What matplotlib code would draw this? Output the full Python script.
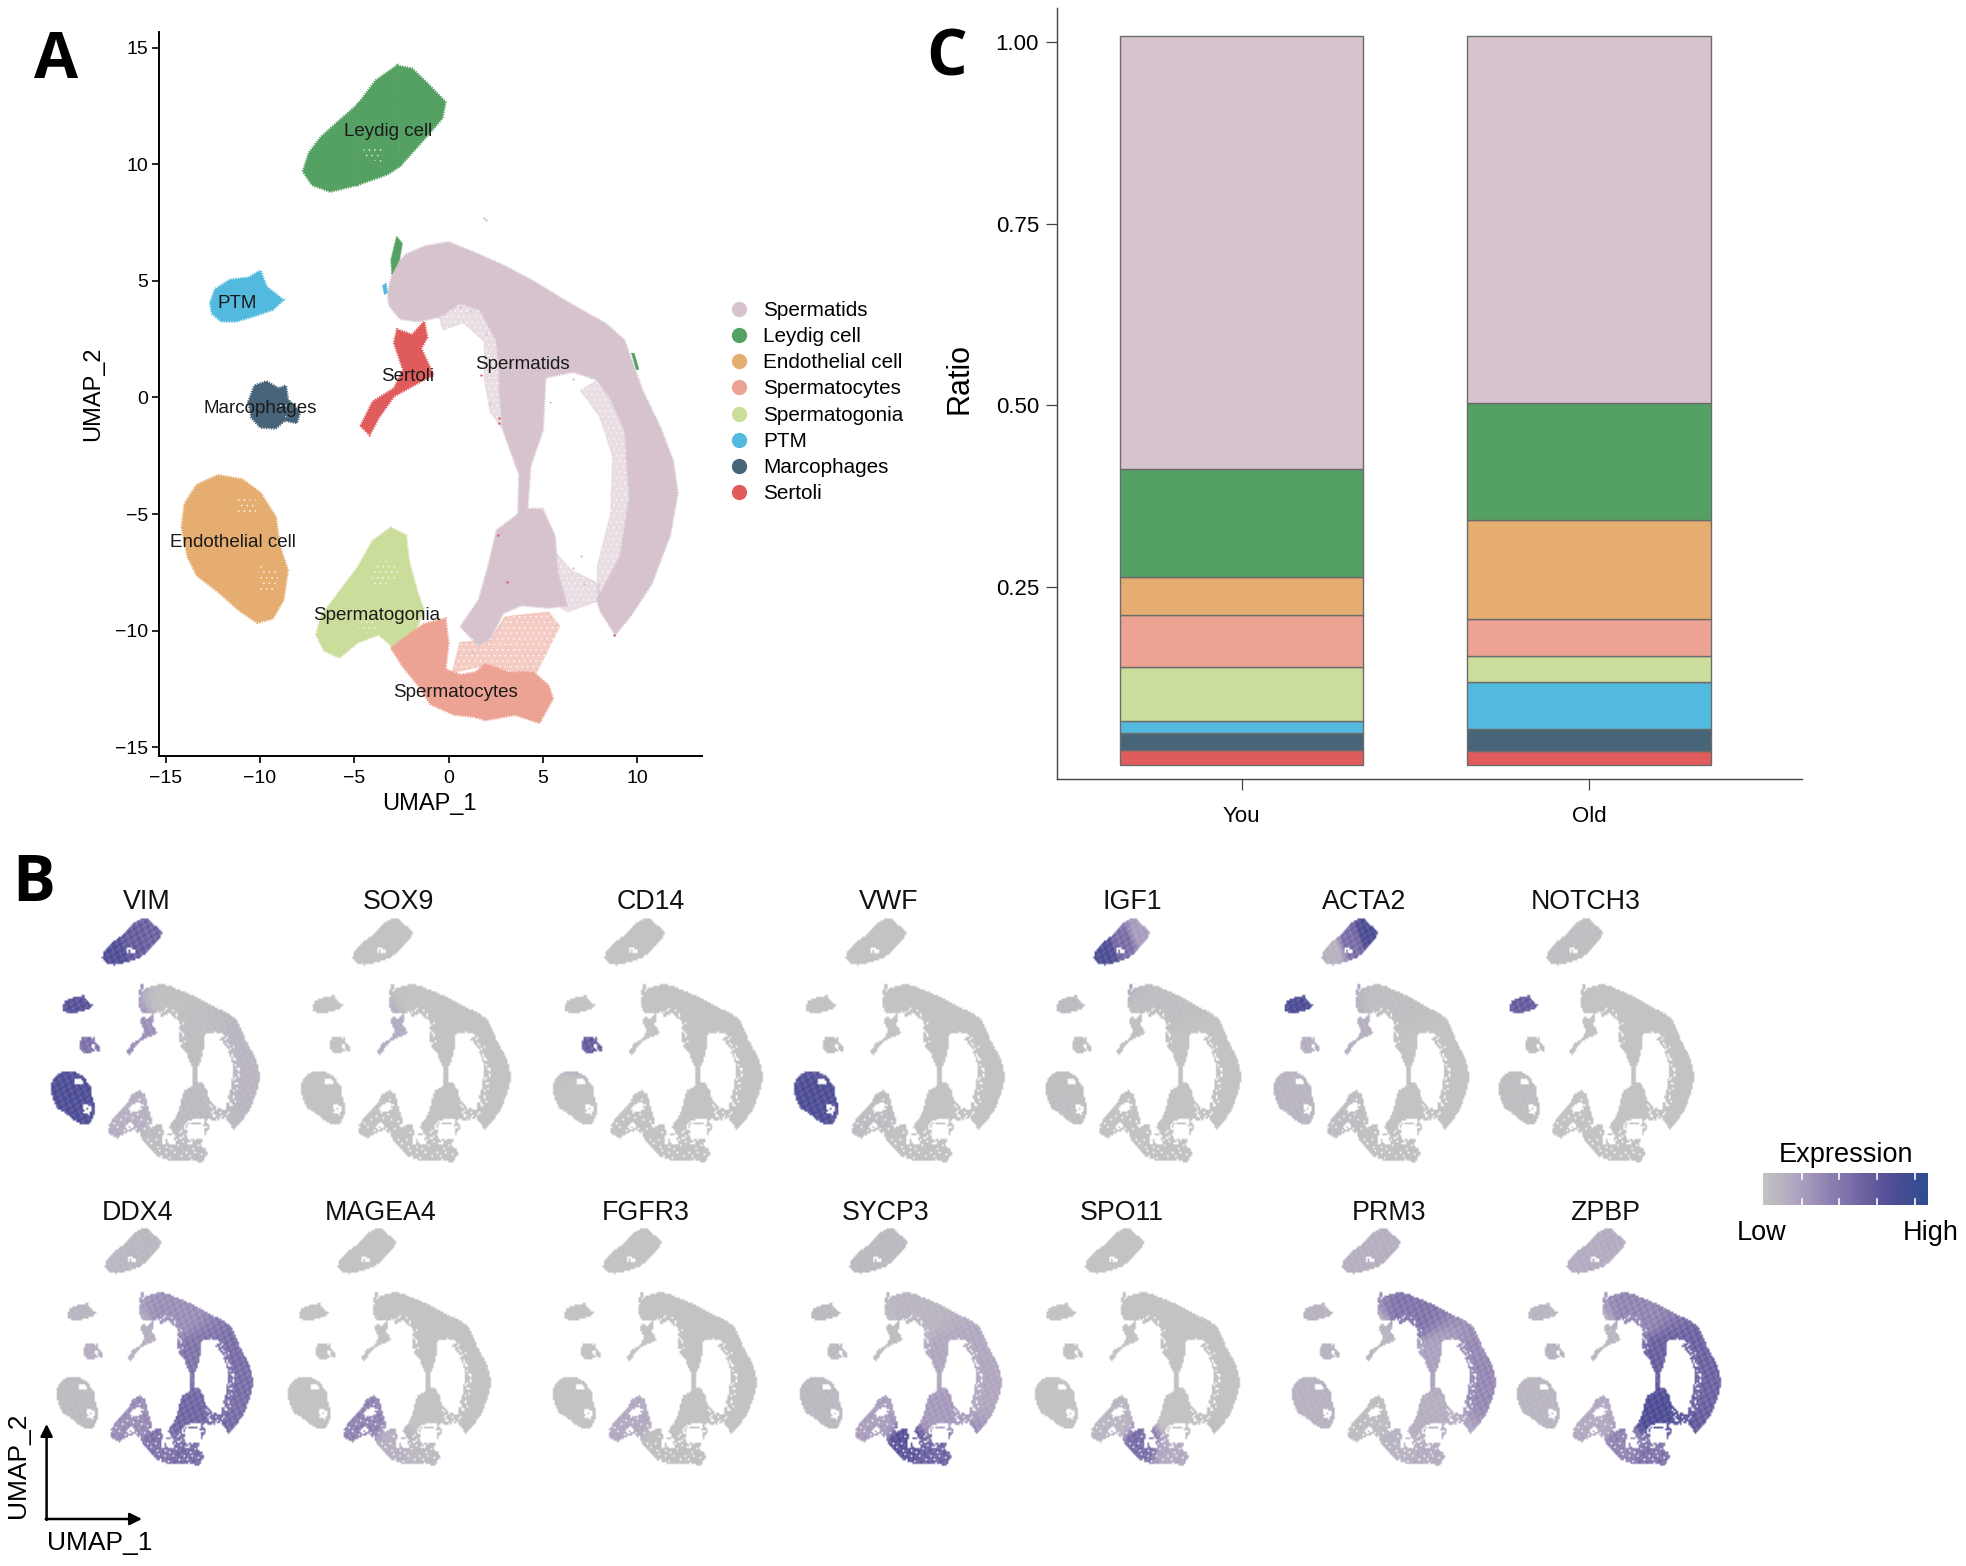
import numpy as np
import matplotlib
matplotlib.use('Agg')
import matplotlib.pyplot as plt
from matplotlib.colors import LinearSegmentedColormap
from matplotlib.path import Path

plt.rcParams['font.family'] = ['Liberation Sans', 'DejaVu Sans']
plt.rcParams['hatch.linewidth'] = 0.3

W, H = 1966, 1566

# cell type outlines on the UMAP
leydig_1 = [(-7.72, 9.69), (-7.40, 10.49), (-6.75, 11.18), (-5.79, 11.87), (-4.82, 12.56), (-4.82, 9.11), (-6.27, 8.82), (-7.23, 9.11)]
leydig_2 = [(-4.82, 12.56), (-3.86, 13.59), (-2.73, 14.23), (-2.57, 9.92), (-3.22, 9.57), (-4.82, 9.11)]
leydig_3 = [(-2.73, 14.23), (-1.93, 14.10), (-1.13, 13.48), (-0.16, 12.67), (-0.32, 11.98), (-1.29, 11.07), (-2.57, 9.92)]
ptm = [(-12.64, 4.06), (-12.38, 4.64), (-11.58, 5.05), (-10.61, 5.14), (-9.97, 5.44), (-9.65, 4.75), (-8.75, 4.18), (-9.32, 3.76), (-10.29, 3.49), (-11.25, 3.26), (-12.06, 3.26), (-12.54, 3.60)]
macro = [(-10.61, -0.18), (-10.29, 0.51), (-9.65, 0.69), (-9.0, 0.39), (-8.62, 0.51), (-8.52, -0.07), (-7.88, -0.64), (-8.04, -1.10), (-8.68, -0.99), (-9.16, -1.33), (-9.97, -1.29), (-10.45, -0.87)]
endo = [(-14.15, -5.58), (-13.99, -4.55), (-13.34, -3.74), (-12.22, -3.33), (-10.93, -3.51), (-9.97, -4.09), (-9.16, -5.12), (-8.94, -6.38), (-8.52, -7.41), (-8.75, -8.68), (-9.32, -9.48), (-10.13, -9.66), (-11.09, -9.14), (-12.22, -8.33), (-13.34, -7.64), (-13.83, -6.84)]
sertoli = [(-4.66, -1.22), (-4.02, -0.18), (-2.89, 0.39), (-2.41, 1.19), (-2.89, 2.34), (-2.73, 2.92), (-1.93, 2.69), (-1.29, 3.26), (-1.13, 2.57), (-1.45, 2.11), (-0.80, 0.96), (-1.61, 0.62), (-2.89, 0.05), (-3.70, -0.87), (-4.18, -1.61)]
spgonia = [(-7.01, -10.17), (-6.75, -9.37), (-5.79, -8.33), (-4.82, -7.30), (-4.02, -6.15), (-3.05, -5.58), (-2.25, -5.92), (-2.09, -7.07), (-1.61, -8.45), (-1.29, -9.14), (-1.93, -10.28), (-2.89, -10.74), (-3.70, -10.17), (-4.82, -10.51), (-5.79, -11.16), (-6.59, -10.86)]
spcyte_1 = [(-3.05, -10.74), (-1.93, -10.06), (-1.29, -9.71), (-0.16, -9.48), (0, -10.51), (-0.16, -11.66), (0.64, -11.89), (1.45, -11.78), (1.45, -13.7), (0.32, -13.61), (-0.96, -13.15), (-1.61, -12.35), (-2.41, -11.55)]
spcyte_2 = [(1.45, -11.78), (1.93, -11.43), (3.22, -11.78), (4.50, -11.78), (5.31, -12.35), (5.53, -12.92), (4.82, -13.96), (3.54, -13.61), (1.93, -13.84), (1.45, -13.7)]
sperm_top = [(-3.22, 4.52), (-2.89, 5.56), (-2.25, 6.13), (-1.29, 6.47), (0, 6.66), (1.29, 6.24), (2.89, 5.67), (4.50, 4.98), (6.11, 4.18), (6.6, 1.1), (5.14, 0.85), (2.7, 1.2), (2.55, 2.46), (1.67, 3.75), (0.6, 4.05), (-0.5, 3.45), (-1.61, 3.26), (-2.57, 3.37), (-3.15, 3.95)]
sperm_right = [(6.11, 4.18), (8.36, 3.15), (9.32, 2.46), (10.29, 0.28), (11.25, -1.33), (11.90, -2.71), (12.15, -4.09), (11.74, -5.92), (10.77, -7.99), (9.65, -9.37), (8.84, -10.17), (8.04, -9.14), (7.88, -8.68), (9.1, -6.84), (9.6, -4.32), (9.36, -1.4), (8.56, 0), (7.9, 0.75), (6.6, 1.1)]
sperm_stem = [(2.7, 1.2), (5.14, 0.85), (5.0, -1.4), (4.34, -2.94), (4.18, -4.78), (3.70, -5.0), (3.75, -3.3), (2.9, -1.4), (2.7, 0.3)]
sperm_body = [(3.70, -5.0), (4.18, -4.78), (4.98, -4.78), (5.63, -5.92), (5.79, -7.53), (6.27, -8.91), (5.31, -9.02), (3.86, -8.91), (2.89, -9.25), (2.25, -10.28), (1.61, -10.63), (0.64, -9.83), (1.61, -8.68), (2.09, -7.30), (2.57, -5.69)]

# loose scatter around the dense parts
fringe_arc_left = [(-0.5, 3.45), (0.6, 4.05), (1.67, 3.75), (2.55, 2.46), (2.7, 1.2), (2.7, 0.3), (2.9, -1.4), (2.2, -0.6), (1.9, 0.8), (1.9, 2.4), (0.8, 3.2), (-0.3, 2.9)]
fringe_arc_right = [(7.9, 0.75), (8.56, 0), (9.36, -1.4), (9.6, -4.3), (9.1, -6.8), (7.9, -8.7), (7.9, -7.2), (8.6, -5), (8.7, -2.5), (8, -0.8), (7.0, 0.3)]
fringe_body_right = [(5.5, -6.5), (6.5, -7.4), (8.0, -8.0), (8.0, -8.7), (6.3, -9.2), (5.6, -8.8)]
fringe_bridge = [(0.6, -10.5), (2.2, -10.4), (3, -9.4), (5.3, -9.2), (5.9, -9.8), (4.6, -11.9), (1.9, -11.5), (0.2, -11.8)]

# white gaps inside the clouds
holes = [
    [(-4.1, -7.35), (-3.5, -6.95), (-2.85, -7.1), (-2.55, -7.65), (-3.3, -8.0), (-4.1, -8.1)],
    [(-4.82, -9.83), (-4.18, -9.14), (-3.70, -9.83), (-4.50, -10.2)],
    [(-11.2, -4.3), (-10.1, -4.4), (-10.2, -5.0), (-11.2, -4.9)],
    [(-10.1, -7.2), (-9.0, -7.4), (-9.1, -8.4), (-10.0, -8.3)],
    [(-4.5, 10.8), (-3.5, 10.7), (-3.5, 10.1), (-4.5, 10.2)],
    [(-8.9, -0.25), (-8.55, -0.35), (-8.6, -0.9), (-9.1, -0.7)],
]
small_map_holes = [
    [(3.0, -9.6), (5.0, -9.4), (5.2, -11.2), (3.1, -11.3)],
    [(0.4, -10.7), (1.5, -10.9), (1.2, -11.6), (0.4, -11.6)],
]

# small bits of other clusters next to the spermatids
leydig_spur = [(-3.0, 5.3), (-3.05, 5.9), (-2.75, 6.9), (-2.45, 6.6), (-2.6, 5.9)]
leydig_right = [(9.7, 1.9), (9.85, 1.9), (10.1, 1.2), (9.95, 1.2)]
ptm_spur = [(-3.5, 4.8), (-3.3, 4.9), (-3.25, 4.5), (-3.4, 4.4)]
stray_x = [1.9, 2.0, 2.6, 2.8, 2.0, 3.0, 1.7, 7.0, 6.6, 0.6, 1.2, 1.0, 2.2, 5.4, 1.3, 6.6, 7.2]
stray_y = [7.7, 7.6, 2.9, 2.2, 2.7, 3.2, 1.3, -6.8, -7.3, 3.9, 3.7, 4.1, -0.3, -0.2, -10.9, 0.8, -8.0]
red_x = [1.7, 2.7, 2.7, 2.6, 3.1, 8.8]
red_y = [0.95, -0.9, -1.1, -5.9, -7.9, -10.2]

regions = [leydig_1, leydig_2, leydig_3, ptm, macro, endo, sertoli, spgonia, spcyte_1, spcyte_2, sperm_top, sperm_right, sperm_stem, sperm_body]
fringes = [fringe_arc_left, fringe_arc_right, fringe_body_right, fringe_bridge]

cell_types = ['Spermatids', 'Leydig cell', 'Endothelial cell', 'Spermatocytes', 'Spermatogonia', 'PTM', 'Marcophages', 'Sertoli']
cell_colors = ['#D6C3CE', '#55A163', '#E6AD70', '#EDA394', '#CBDD9B', '#53BADF', '#476478', '#E05C5C']
region_types = ['Leydig cell', 'Leydig cell', 'Leydig cell', 'PTM', 'Marcophages', 'Endothelial cell', 'Sertoli', 'Spermatogonia', 'Spermatocytes', 'Spermatocytes', 'Spermatids', 'Spermatids', 'Spermatids', 'Spermatids']
fringe_types = ['Spermatids', 'Spermatids', 'Spermatids', 'Spermatocytes']

label_text = ['Leydig cell', 'PTM', 'Marcophages', 'Endothelial cell', 'Spermatogonia', 'Spermatocytes', 'Sertoli', 'Spermatids']
label_x = [-3.2, -11.19, -9.97, -11.41, -3.79, 0.39, -2.15, 3.92]
label_y = [11.40, 4.03, -0.49, -6.23, -9.33, -12.66, 0.88, 1.41]

# panel C, stacked from the bottom up
groups = ['You', 'Old']
stack_order = ['Sertoli', 'Marcophages', 'PTM', 'Spermatogonia', 'Spermatocytes', 'Endothelial cell', 'Leydig cell', 'Spermatids']
ratio_you = [0.0213, 0.0236, 0.0155, 0.0752, 0.0714, 0.0516, 0.1488, 0.5946]
ratio_old = [0.0191, 0.0302, 0.0649, 0.0353, 0.0516, 0.1363, 0.1599, 0.5047]
bar_base = 0.0054

# panel B, expression level per region (same order as regions)
genes_row1 = ['VIM', 'SOX9', 'CD14', 'VWF', 'IGF1', 'ACTA2', 'NOTCH3']
genes_row2 = ['DDX4', 'MAGEA4', 'FGFR3', 'SYCP3', 'SPO11', 'PRM3', 'ZPBP']
expr = {}
expr['VIM'] = [.74, .62, .58, .70, .48, .76, .30, .12, .04, .04, .02, .08, .03, .05]
expr['SOX9'] = [0, 0, 0, 0, 0, 0, .14, 0, 0, 0, 0, 0, 0, 0]
expr['CD14'] = [0, 0, 0, 0, .62, 0, 0, 0, 0, 0, 0, 0, 0, 0]
expr['VWF'] = [0, 0, 0, 0, .03, .76, 0, .04, .01, .01, 0, 0, 0, 0]
expr['IGF1'] = [.76, .50, .22, .05, .02, .03, .02, 0, 0, 0, .03, 0, 0, 0]
expr['ACTA2'] = [.10, .50, .78, .76, .12, .08, .12, .04, .02, .02, .03, 0, 0, 0]
expr['NOTCH3'] = [.03, .03, .03, .62, .02, .03, 0, 0, 0, 0, 0, 0, 0, 0]
expr['DDX4'] = [.07, .07, .07, .08, .12, .04, .12, .32, .48, .52, .30, .50, .46, .55]
expr['MAGEA4'] = [0, 0, 0, 0, 0, 0, 0, .38, .12, .06, 0, 0, 0, 0]
expr['FGFR3'] = [0, 0, 0, 0, 0, 0, 0, .16, .03, .02, 0, 0, 0, 0]
expr['SYCP3'] = [.06, .06, .06, .06, .05, .06, .04, .22, .72, .58, .08, .16, .16, .24]
expr['SPO11'] = [0, 0, 0, 0, 0, 0, 0, .08, .52, .16, 0, 0, 0, 0]
expr['PRM3'] = [.12, .12, .12, .10, .10, .10, .08, .04, .10, .14, .46, .34, .20, .12]
expr['ZPBP'] = [.14, .14, .14, .08, .10, .08, .08, .16, .38, .48, .36, .58, .60, .76]

cmap = LinearSegmentedColormap.from_list('expr', ['#C3C4C2', '#B0A4C2', '#8F82B2', '#6E64A3', '#4E4C96', '#2F4C90'])
bar_ticks = [0.234, 0.46, 0.69, 0.92]

# pixel boxes of the small maps: left, right
row1_left = [49.7, 299.7, 551.7, 792.7, 1044.4, 1272.3, 1497.8]
row1_right = [260.2, 511.5, 763.4, 1005.5, 1241.5, 1469.5, 1695]
row2_left = [56.1, 287, 551.7, 799, 1033.9, 1290.8, 1516.3]
row2_right = [253.8, 491.5, 757, 1003, 1240.3, 1496, 1722]
row1_title_x = [146.7, 398.7, 650.7, 889, 1132, 1364, 1586]
row2_title_x = [138, 381, 646, 886, 1122, 1389, 1605]

# data range of the small maps
map_x = (-14.15, 12.15)
map_y = (-13.96, 14.23)
map_pad = 0.5


def px_axes(left, top, right, bottom):
    return fig.add_axes([left / W, 1 - bottom / H, (right - left) / W, (bottom - top) / H])


def fig_text(x, y, s, **kw):
    kw.setdefault('ha', 'center')
    kw.setdefault('va', 'center')
    return fig.text(x / W, 1 - y / H, s, **kw)


def fill_poly(ax, poly, color, lw=1.8, alpha=None):
    xs = [p[0] for p in poly]
    ys = [p[1] for p in poly]
    ax.fill(xs, ys, facecolor=color, edgecolor=color, linewidth=lw, linestyle=(0, (0.5, 0.5)), alpha=alpha)


def stipple(ax, poly, color, hatch='.....'):
    xs = [p[0] for p in poly]
    ys = [p[1] for p in poly]
    ax.fill(xs, ys, facecolor='none', edgecolor=color, hatch=hatch, linewidth=0)


fig = plt.figure(figsize=(W / 100, H / 100), dpi=100, facecolor='white')

# ---- panel A
axA = px_axes(159, 32, 702, 756.4)
colors = dict(zip(cell_types, cell_colors))
for poly, kind in zip(fringes, fringe_types):
    fill_poly(axA, poly, colors[kind], lw=1.2, alpha=0.55)
    stipple(axA, poly, 'white', hatch='...')
for poly, kind in zip(regions, region_types):
    fill_poly(axA, poly, colors[kind], lw=1.8)
for poly in holes:
    stipple(axA, poly, 'white', hatch='...')
fill_poly(axA, leydig_spur, colors['Leydig cell'], lw=1)
fill_poly(axA, leydig_right, colors['Leydig cell'], lw=0.6)
fill_poly(axA, ptm_spur, colors['PTM'], lw=0.6)
axA.scatter(stray_x, stray_y, s=3, color=colors['Spermatids'], linewidths=0)
axA.scatter(red_x, red_y, s=3, color=colors['Sertoli'], linewidths=0)
for t, x, y in zip(label_text, label_x, label_y):
    axA.text(x, y, t, fontsize=13.5, ha='center', va='center', color='#1a1a1a')
axA.set_xlim(-15.35, 13.44)
axA.set_ylim(-15.39, 15.67)
axA.set_xticks([-15, -10, -5, 0, 5, 10])
axA.set_yticks([-15, -10, -5, 0, 5, 10, 15])
axA.set_xticklabels(['\u221215', '\u221210', '\u22125', '0', '5', '10'])
axA.set_yticklabels(['\u221215', '\u221210', '\u22125', '0', '5', '10', '15'])
axA.tick_params(labelsize=14, length=5, width=1.2, pad=3)
axA.tick_params(axis='x', pad=5)
for s in ['top', 'right']:
    axA.spines[s].set_visible(False)
for s in ['left', 'bottom']:
    axA.spines[s].set_linewidth(1.4)
fig_text(429, 804, 'UMAP_1', fontsize=17)
fig_text(93, 394, 'UMAP_2', fontsize=17, rotation=90)

# legend of panel A
leg_y = 308.6
for name, col in zip(cell_types, cell_colors):
    fig_text(763, leg_y + 1.5, name, fontsize=14.9, ha='left')
    fig.add_artist(plt.Line2D([739 / W], [1 - leg_y / H], marker='o', ms=10, color=col, linestyle='none'))
    leg_y += 26.25

# ---- panel C
axC = px_axes(1057, 8, 1802, 779.5)
for j, g in enumerate(groups):
    vals = ratio_you if j == 0 else ratio_old
    bottom = bar_base
    for kind, v in zip(stack_order, vals):
        axC.bar(j, v, width=0.70, bottom=bottom, color=colors[kind], edgecolor='#6b6b6b', linewidth=1.0)
        bottom += v
axC.set_xlim(-0.531, 1.613)
axC.set_ylim(-0.0143, 1.0465)
axC.set_xticks([0, 1])
axC.set_xticklabels(groups)
axC.set_yticks([0.25, 0.5, 0.75, 1.0])
axC.set_yticklabels(['0.25', '0.50', '0.75', '1.00'])
axC.tick_params(labelsize=16, length=8, width=0.9, color='#444444')
axC.tick_params(axis='x', pad=11)
axC.tick_params(axis='y', pad=5)
for s in ['top', 'right']:
    axC.spines[s].set_visible(False)
for s in ['left', 'bottom']:
    axC.spines[s].set_linewidth(1.0)
    axC.spines[s].set_color('#444444')
fig_text(960, 378, 'Ratio', fontsize=22, rotation=90)

# ---- panel B, all small maps share one mask on a coarse grid
gx = np.linspace(map_x[0] - map_pad, map_x[1] + map_pad, 130)
gy = np.linspace(map_y[0] - map_pad, map_y[1] + map_pad, 140)
X, Y = np.meshgrid(gx, gy)
pts = np.column_stack([X.ravel(), Y.ravel()])


def inside(polys):
    m = np.zeros(X.shape, dtype=bool)
    for poly in polys:
        m |= Path(poly + [poly[0]]).contains_points(pts).reshape(X.shape)
    return m


# fixed fine mottling, the maps are built from single cells in the original
mottle = (np.sin(7.3 * X + 3.1 * Y) + np.sin(5.1 * X - 8.7 * Y + 1.3) + np.sin(11.9 * X + 9.7 * Y + 2.1)) / 3
solid = inside(regions + [leydig_spur])
loose = inside(fringes) & (mottle < 0.4)
gaps = inside(holes + small_map_holes) & (mottle < 0.5)
mask = (solid | loose) & ~gaps
specks = inside([spgonia, spcyte_1, spcyte_2]) & (mottle > 0.68)
mask = mask & ~specks

anchors = np.array([np.mean(p, axis=0) for p in regions])
dist = np.stack([np.hypot(X - a[0], Y - a[1]) + 0.3 for a in anchors])
weight = dist ** -6.0
weight = weight / weight.sum(axis=0)


def small_map(gene, left, right, top, bottom):
    sx = (right - left) / (map_x[1] - map_x[0])
    sy = (bottom - top) / (map_y[1] - map_y[0])
    ax = px_axes(left - map_pad * sx, top - map_pad * sy, right + map_pad * sx, bottom + map_pad * sy)
    levels = np.array(expr[gene])
    field = (weight * levels[:, None, None]).sum(axis=0)
    field = np.clip(field * (1 + 0.3 * mottle) + 0.03 * mottle * (field > 0.02), 0, 1)
    rgba = cmap(field)
    rgba[..., 3] = mask.astype(float)
    ax.imshow(rgba, origin='lower', aspect='auto', interpolation='bilinear',
              extent=[gx[0], gx[-1], gy[0], gy[-1]])
    ax.set_xlim(gx[0], gx[-1])
    ax.set_ylim(gy[0], gy[-1])
    ax.axis('off')


for g, l, r, tx in zip(genes_row1, row1_left, row1_right, row1_title_x):
    small_map(g, l, r, 917.6, 1163.7)
    fig_text(tx, 902, g, fontsize=19.3, color='#111111')
for g, l, r, tx in zip(genes_row2, row2_left, row2_right, row2_title_x):
    small_map(g, l, r, 1228, 1467)
    fig_text(tx, 1213.5, g, fontsize=19.3, color='#111111')

# colour bar
axbar = px_axes(1763, 1173, 1928, 1205)
grad = np.linspace(0, 1, 256).reshape(1, -1)
axbar.imshow(grad, aspect='auto', cmap=cmap, extent=[0, 1, 0, 1])
for tick in bar_ticks:
    axbar.plot([tick, tick], [0, 0.2], color='white', lw=1.2)
    axbar.plot([tick, tick], [0.8, 1], color='white', lw=1.2)
axbar.set_xlim(0, 1)
axbar.set_ylim(0, 1)
axbar.axis('off')
fig_text(1845.6, 1155.5, 'Expression', fontsize=19.5)
fig_text(1761.6, 1233.5, 'Low', fontsize=19.5)
fig_text(1931, 1233.5, 'High', fontsize=19.5)

# axis arrows under panel B
axarrow = fig.add_axes([0, 0, 1, 1], facecolor='none')
axarrow.set_xlim(0, W)
axarrow.set_ylim(H, 0)
axarrow.axis('off')
axarrow.annotate('', xy=(46.6, 1424), xytext=(46.6, 1520),
                 arrowprops=dict(arrowstyle='-|>', color='black', lw=1.8, shrinkA=0, shrinkB=0, mutation_scale=18))
axarrow.annotate('', xy=(142, 1519), xytext=(45.7, 1519),
                 arrowprops=dict(arrowstyle='-|>', color='black', lw=1.8, shrinkA=0, shrinkB=0, mutation_scale=18))
fig_text(18, 1465, 'UMAP_2', fontsize=19, rotation=90)
fig_text(100, 1543, 'UMAP_1', fontsize=19)

# panel letters
for s, x, y in [('A', 34, 77.7), ('C', 926, 75), ('B', 12, 901)]:
    fig_text(x, y, s, fontsize=46, fontweight='bold', ha='left', va='baseline', family=['Open Sans', 'DejaVu Sans'])

fig.savefig('out.png', dpi=100, facecolor='white')
